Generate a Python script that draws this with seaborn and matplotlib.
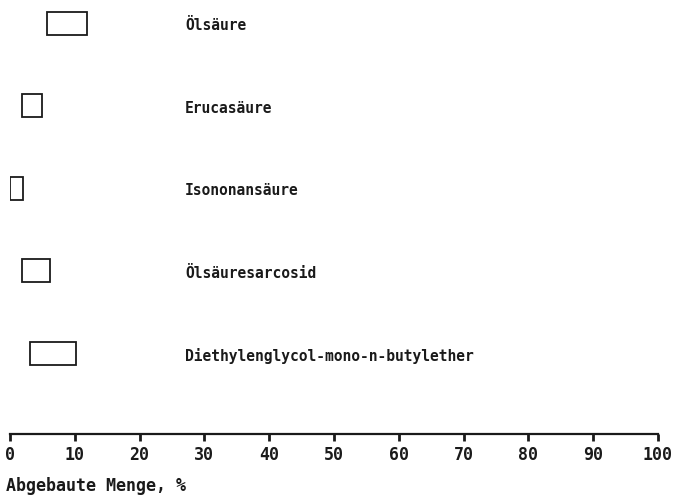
"""Degradation ranges of test substances, drawn as floating boxes."""

import matplotlib

matplotlib.use("Agg")

import matplotlib.pyplot as plt
import pandas as pd
import seaborn as sns

substances = [
    "Ölsäure",
    "Erucasäure",
    "Isononansäure",
    "Ölsäuresarcosid",
    "Diethylenglycol-mono-n-butylether",
]
low = [5.7, 1.8, 0.0, 1.8, 3.1]
high = [11.9, 5.0, 2.0, 6.2, 10.2]
x_ticks = [0, 10, 20, 30, 40, 50, 60, 70, 80, 90, 100]
x_label = "Abgebaute Menge, %"

df = pd.DataFrame({"substance": substances, "low": low, "high": high})
df["width"] = df["high"] - df["low"]
df["row"] = range(len(df))

sns.set_theme(style="white")
plt.rcParams["font.family"] = ["DejaVu Sans Mono", "DejaVu Sans"]
plt.rcParams["font.weight"] = "bold"
plt.rcParams["axes.labelweight"] = "bold"

fig = plt.figure(figsize=(6.76, 5.0), dpi=100)
# axes placed so that 0..100 spans the printed scale of the original
ax = fig.add_axes([10 / 676, 66 / 500, 648 / 676, 434 / 500])

ax.barh(
    df["row"],
    df["width"],
    left=df["low"],
    height=0.28,
    color="white",
    edgecolor="#1a1a1a",
    linewidth=1.3,
)
for _, r in df.iterrows():
    ax.text(27, r["row"] + 0.03, r["substance"], va="center", ha="left",
            fontsize=10.5, color="#1a1a1a")

ax.set_xlim(0, 100)
ax.set_ylim(4.98, -0.28)
ax.set_yticks([])
ax.set_xticks(x_ticks)
ax.set_xticklabels([str(t) for t in x_ticks], fontsize=12, color="#1a1a1a")
ax.tick_params(axis="x", direction="out", length=5, width=2, pad=4,
               bottom=True, color="#1a1a1a")

sns.despine(ax=ax, left=True, top=True, right=True)
ax.spines["bottom"].set_linewidth(1.6)
ax.spines["bottom"].set_color("#1a1a1a")

ax.set_xlabel(x_label, loc="left", fontsize=12, fontweight="bold",
              color="#1a1a1a", va="center")
ax.xaxis.set_label_coords(-0.006, -0.12)

fig.savefig("out.png", dpi=100, facecolor="white")
